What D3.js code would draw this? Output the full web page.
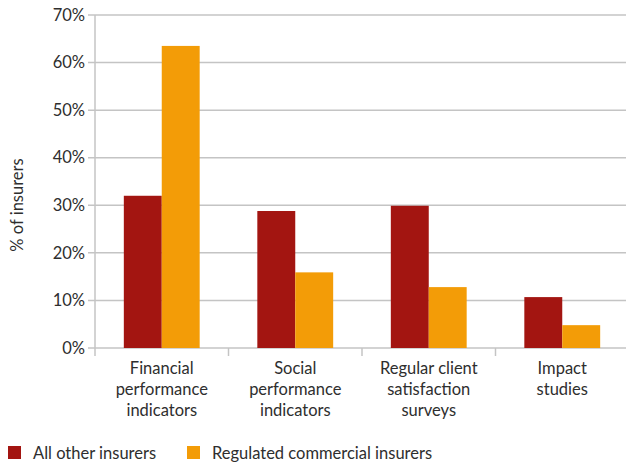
<!DOCTYPE html>
<html><head><meta charset="utf-8">
<script src="https://cdn.jsdelivr.net/npm/d3@7"></script>
<style>body{margin:0;background:#fff}text{font-family:Lato,"Open Sans",sans-serif;fill:#2e2e2e}</style>
</head><body>
<svg id="c" width="626" height="464"></svg>
<script>
const categories = [["Financial","performance","indicators"],["Social","performance","indicators"],["Regular client","satisfaction","surveys"],["Impact","studies"]];
const catKeys = ["Financial","Social","Regular","Impact"];
const seriesNames = ["All other insurers","Regulated commercial insurers"];
const allOther = [32.0, 28.8, 29.9, 10.7];
const regulated = [63.5, 15.9, 12.8, 4.8];
const yTicks = [0,10,20,30,40,50,60,70];
const colors = ["#A31511","#F39C07"];

const svg = d3.select("#c");
const m = {l:95, r:629, t:15, b:348};
const x = d3.scaleBand().domain(catKeys).range([m.l, m.r]).paddingInner(0).paddingOuter(0);
const x1 = d3.scaleBand().domain([0,1]).range([0, x.bandwidth()]).paddingInner(0).paddingOuter(0.76);
const y = d3.scaleLinear().domain([0,70]).range([m.b, m.t]);

svg.append("g").selectAll("line").data(yTicks).join("line")
  .attr("x1", 88).attr("x2", m.r).attr("y1", d=>y(d)).attr("y2", d=>y(d))
  .attr("stroke", "#c4c4c4").attr("stroke-width", 1.5);
svg.append("line").attr("x1", m.l).attr("x2", m.l).attr("y1", m.t).attr("y2", 356)
  .attr("stroke", "#c4c4c4").attr("stroke-width", 1.5);
svg.append("g").selectAll("line").data(catKeys.slice(1)).join("line")
  .attr("x1", d=>x(d)).attr("x2", d=>x(d)).attr("y1", m.b).attr("y2", 356)
  .attr("stroke", "#c4c4c4").attr("stroke-width", 1.5);

svg.append("g").selectAll("text").data(yTicks).join("text")
  .attr("x", 85).attr("y", d=>y(d)).attr("dy", "0.35em").attr("text-anchor","end")
  .style("font-size","16.5px").text(d=>d+"%");

const data = catKeys.map((k,i)=>({k, v:[allOther[i], regulated[i]]}));
const g = svg.append("g").selectAll("g").data(data).join("g").attr("transform", d=>`translate(${x(d.k)},0)`);
g.selectAll("rect").data(d=>d.v.map((v,j)=>({v,j}))).join("rect")
  .attr("x", d=>x1(d.j)).attr("width", x1.bandwidth())
  .attr("y", d=>y(d.v)).attr("height", d=>y(0)-y(d.v))
  .attr("fill", d=>colors[d.j]);

const cl = svg.append("g").selectAll("text").data(catKeys).join("text")
  .attr("text-anchor","middle").style("font-size","16.5px")
  .attr("transform", d=>`translate(${x(d)+x.bandwidth()/2},374)`);
cl.selectAll("tspan").data((d,i)=>categories[i]).join("tspan")
  .attr("x",0).attr("dy",(d,i)=>i===0?0:21).text(d=>d);

svg.append("text").attr("transform","translate(23,205) rotate(-90)").attr("text-anchor","middle")
  .style("font-size","16.5px").text("% of insurers");

const lx = [8, 187];
const lg = svg.append("g").selectAll("g").data(seriesNames).join("g").attr("transform",(d,i)=>`translate(${lx[i]},446)`);
lg.append("rect").attr("width",13).attr("height",13).attr("fill",(d,i)=>colors[i]);
lg.append("text").attr("x",25).attr("y",12.5).style("font-size","16.5px").text(d=>d);
</script>
</body></html>
